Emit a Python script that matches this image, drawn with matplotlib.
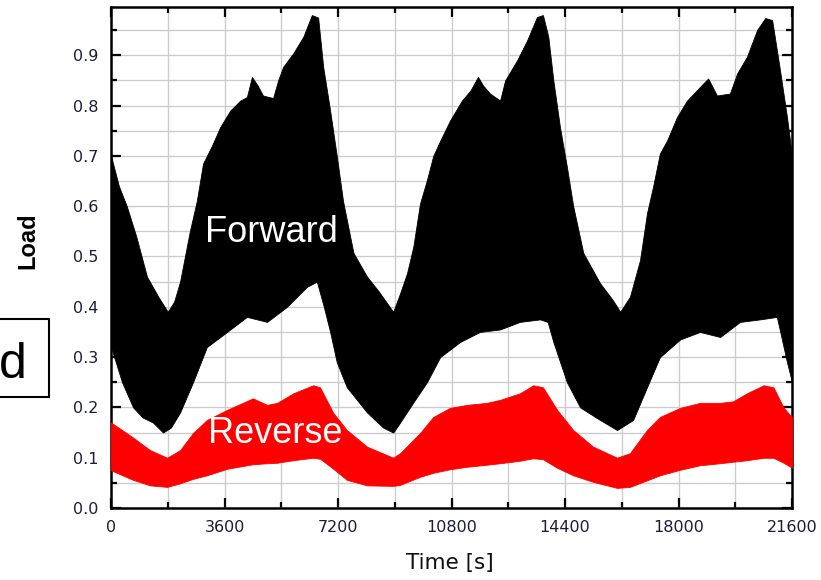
import numpy as np
import matplotlib
matplotlib.use("Agg")
import matplotlib.pyplot as plt
from matplotlib.ticker import MultipleLocator, FormatStrFormatter
from matplotlib.patches import Rectangle

# Forward load: upper envelope of the dense oscillation (time [s], load)
fwd_hi_t = [0, 250, 500, 800, 1140, 1500, 1800, 2000, 2190, 2500, 2720, 2920,
            3200, 3460, 3780, 4100, 4310, 4470, 4650, 4820, 5140, 5300, 5460,
            5780, 6100, 6370, 6570, 6730, 6950, 7160, 7360, 7690, 8120, 8500,
            8950, 9170, 9390, 9590, 9800, 10020, 10220, 10440, 10750, 11130,
            11400, 11640, 11800, 12020, 12340, 12500, 12880, 13200, 13510,
            13700, 13870, 14030, 14240, 14460, 14660, 14980, 15510, 15920,
            16150, 16460, 16780, 17000, 17190, 17410, 17640, 17950, 18270,
            18680, 18940, 19220, 19630, 19860, 20170, 20490, 20750, 20970,
            21120, 21220, 21440, 21600]
fwd_hi = [0.70, 0.64, 0.60, 0.54, 0.46, 0.42, 0.39, 0.41, 0.45, 0.55, 0.61, 0.685,
          0.72, 0.757, 0.79, 0.81, 0.817, 0.857, 0.84, 0.82, 0.815, 0.85, 0.877,
          0.904, 0.937, 0.98, 0.975, 0.877, 0.79, 0.70, 0.61, 0.507, 0.46, 0.43,
          0.39, 0.427, 0.467, 0.52, 0.605, 0.652, 0.70, 0.73, 0.77, 0.81,
          0.83, 0.857, 0.84, 0.824, 0.81, 0.85, 0.89, 0.93, 0.976,
          0.98, 0.937, 0.85, 0.757, 0.678, 0.60, 0.507, 0.447, 0.413,
          0.39, 0.42, 0.493, 0.586, 0.638, 0.705, 0.731, 0.777, 0.81,
          0.837, 0.854, 0.82, 0.824, 0.864, 0.897, 0.95, 0.974, 0.97,
          0.91, 0.87, 0.777, 0.70]

# Forward load: lower envelope
fwd_lo_t = [0, 350, 700, 1000, 1330, 1650, 1900, 2190, 2600, 3040, 3680, 4310,
            4950, 5580, 6220, 6530, 6750, 6950, 7160, 7480, 8120, 8630, 8950,
            9170, 9590, 10020, 10440, 11070, 11700, 12340, 12970, 13610, 13850,
            14030, 14460, 14880, 15510, 16050, 16560, 17000, 17410, 18050,
            18680, 19320, 19950, 20590, 21120, 21440, 21600]
fwd_lo = [0.32, 0.25, 0.20, 0.18, 0.17, 0.15, 0.16, 0.19, 0.25, 0.32, 0.35, 0.38,
          0.37, 0.40, 0.44, 0.45, 0.40, 0.35, 0.29, 0.24, 0.19, 0.16, 0.15,
          0.17, 0.21, 0.25, 0.30, 0.33, 0.35, 0.355, 0.37, 0.375, 0.37,
          0.33, 0.25, 0.20, 0.175, 0.155, 0.175, 0.24, 0.30, 0.335,
          0.35, 0.34, 0.37, 0.375, 0.38, 0.29, 0.25]

# Reverse load: upper and lower envelopes
rev_t = [0, 700, 1240, 1780, 2190, 2600, 3040, 3680, 4500, 4950, 5270, 5780,
         6410, 6630, 7050, 7480, 8120, 8950, 9170, 9800, 10220, 10750, 11290,
         11920, 12340, 12970, 13390, 13700, 14150, 14660, 15290, 16050, 16460,
         17000, 17410, 18050, 18680, 19320, 19730, 20170, 20700, 21010, 21330,
         21600]
rev_hi = [0.17, 0.14, 0.115, 0.10, 0.115, 0.149, 0.175, 0.195, 0.218, 0.205, 0.209, 0.228,
          0.244, 0.24, 0.189, 0.155, 0.122, 0.10, 0.109, 0.149, 0.181, 0.199, 0.205,
          0.209, 0.215, 0.228, 0.244, 0.24, 0.195, 0.155, 0.122, 0.10, 0.109,
          0.155, 0.181, 0.199, 0.209, 0.209, 0.212, 0.228, 0.244, 0.24, 0.20,
          0.18]
rev_lo = [0.075, 0.056, 0.045, 0.042, 0.049, 0.058, 0.065, 0.078, 0.087, 0.089, 0.09, 0.095,
          0.10, 0.098, 0.078, 0.056, 0.045, 0.044, 0.046, 0.062, 0.07, 0.077, 0.082,
          0.086, 0.089, 0.094, 0.099, 0.097, 0.08, 0.065, 0.052, 0.04, 0.042,
          0.055, 0.065, 0.076, 0.085, 0.089, 0.092, 0.095, 0.10, 0.10, 0.09,
          0.08]

# common time base so fill_between can use both envelopes
t = np.linspace(0, 21600, 2000)
f_hi = np.interp(t, fwd_hi_t, fwd_hi)
f_lo = np.interp(t, fwd_lo_t, fwd_lo)

tick_col = '#1c1c3a'

fig = plt.figure(figsize=(8.21, 5.80), dpi=100)
ax = fig.add_axes([111/821, 72/580, 681/821, 501/580])

ax.fill_between(t, f_lo, f_hi, color='black', lw=0.6, zorder=2)
ax.fill_between(rev_t, rev_lo, rev_hi, color='#ff0000', lw=0.6, zorder=3)

ax.set_xlim(0, 21600)
ax.set_ylim(0, 0.996)
ax.xaxis.set_major_locator(MultipleLocator(3600))
ax.xaxis.set_minor_locator(MultipleLocator(1800))
ax.yaxis.set_major_locator(MultipleLocator(0.1))
ax.yaxis.set_minor_locator(MultipleLocator(0.05))
ax.yaxis.set_major_formatter(FormatStrFormatter('%.1f'))
ax.set_yticks([v/10 for v in range(10)])

ax.grid(True, which='both', color='#cccccc', lw=1.0, zorder=0)
ax.set_axisbelow(True)
for s in ax.spines.values():
    s.set_linewidth(1.8)
ax.tick_params(which='both', direction='in', top=True, right=True,
               width=1.6, labelsize=11.5, labelcolor=tick_col, pad=9)
ax.tick_params(which='major', length=7)
ax.tick_params(which='minor', length=4)

ax.text(0.235, 0.531, 'Forward', transform=ax.transAxes, color='white',
        fontsize=26, family='Liberation Sans', ha='center', va='baseline', zorder=5)
ax.text(0.241, 0.130, 'Reverse', transform=ax.transAxes, color='white',
        fontsize=26, family='Liberation Sans', ha='center', va='baseline', zorder=5)

fig.text(28/821, 1 - 241/580, 'Load', rotation=90, fontsize=17,
         family='Liberation Sans', weight='bold', ha='center', va='center')
fig.text(450/821, 1 - 563/580, 'Time [s]', fontsize=15.5, color='#111111',
         ha='center', va='center')

# panel tag "d" in a box, cut by the left edge
fig.patches.append(Rectangle((-0.01, 183/580), 49/821 + 0.01, 78/580,
                             transform=fig.transFigure, fill=False,
                             ec='black', lw=1.5))
fig.text(12.5/821, 1 - 378/580, 'd', fontsize=36, family='Liberation Sans',
         ha='center', va='baseline')

fig.savefig('out.png', dpi=100)
